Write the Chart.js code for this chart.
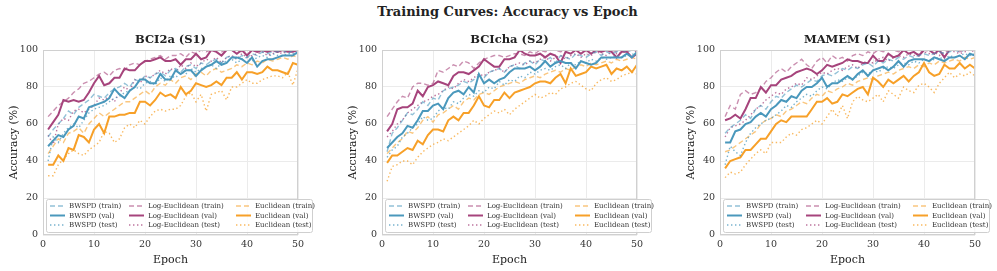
<!DOCTYPE html>
<html>
<head>
<meta charset="utf-8">
<script src="https://cdn.jsdelivr.net/npm/chart.js@4.4.1/dist/chart.umd.min.js"></script>
<style>
  body { margin: 0; background: #fff; width: 997px; height: 271px; position: relative; overflow: hidden; }
  #mainTitle { position: absolute; left: 0; top: 4px; width: 1015px; text-align: center;
    font: bold 13px "DejaVu Serif", serif; color: #222; }
  canvas { position: absolute; top: 28px; }
</style>
</head>
<body>
<div id="mainTitle">Training Curves: Accuracy vs Epoch</div>
<canvas id="c1" width="320" height="243" style="left:0px"></canvas>
<canvas id="c2" width="320" height="243" style="left:339px"></canvas>
<canvas id="c3" width="320" height="243" style="left:677px"></canvas>
<script>
// エポック
const epochs = [1,2,3,4,5,6,7,8,9,10,11,12,13,14,15,16,17,18,19,20,21,22,23,24,25,
  26,27,28,29,30,31,32,33,34,35,36,37,38,39,40,41,42,43,44,45,46,47,48,49,50];
const xTicks = [0, 10, 20, 30, 40, 50];
const yTicks = [0, 20, 40, 60, 80, 100];
const panelTitles = ['BCI2a (S1)', 'BCIcha (S2)', 'MAMEM (S1)'];
const methods = ['BWSPD', 'Log-Euclidean', 'Euclidean'];
const splits = ['train', 'val', 'test'];

// BCI2a (S1)
const bci2aBwspdTrain = [53,57,60,63,67,65,69,71,73,76,75,74,77,79,80,82,80,84,83,86,85,87,88,86,89,90,88,91,92,90,93,92,94,95,93,96,97,95,97,96,98,97,99,98,99,99,100,98,100,100];
const bci2aBwspdVal   = [48,51,54,53,57,59,64,63,69,70,71,72,74,79,76,74,78,80,84,84,82,82,87,84,84,89,87,89,89,86,89,91,92,94,92,93,96,96,95,93,96,91,94,95,95,96,97,97,97,99];
const bci2aBwspdTest  = [40,53,50,55,58,60,58,62,66,68,69,70,72,74,75,77,78,80,79,82,83,81,85,83,86,85,88,87,90,88,90,91,92,90,93,94,95,93,95,96,94,96,97,96,98,97,97,98,98,98];
const bci2aLogTrain   = [64,67,70,72,74,77,79,82,83,85,87,88,86,89,90,89,92,93,92,94,95,96,97,95,97,97,98,96,99,98,100,99,100,100,99,100,100,100,99,100,100,100,100,99,100,100,100,100,100,100];
const bci2aLogVal     = [57,61,65,73,72,73,72,73,77,82,86,81,82,85,85,90,89,89,92,94,94,95,96,94,94,95,92,95,95,98,95,96,100,99,97,100,100,98,100,97,100,99,100,99,100,99,100,99,99,100];
const bci2aLogTest    = [54,49,60,63,62,67,68,66,68,70,74,73,75,72,77,80,78,84,82,86,85,87,89,87,90,88,92,90,93,91,93,95,94,96,93,96,97,95,98,96,97,98,99,97,98,99,98,100,99,100];
const bci2aEucTrain   = [44,48,52,50,55,56,58,55,60,63,66,64,66,68,70,72,72,74,76,78,76,80,82,81,84,82,85,86,84,87,88,86,89,90,88,89,90,92,91,93,92,94,93,95,94,95,96,95,97,96];
const bci2aEucVal     = [38,38,43,40,47,46,54,53,50,57,60,55,64,64,65,65,66,66,72,72,70,73,77,75,76,74,80,76,78,82,81,80,81,83,81,85,85,88,84,88,88,87,88,91,89,89,88,87,93,92];
const bci2aEucTest    = [32,32,38,41,44,46,44,43,46,48,50,56,55,50,52,58,60,58,62,60,64,67,68,67,68,68,70,75,77,72,76,67,76,77,78,73,80,80,82,84,82,82,84,85,86,86,85,88,81,90];

// BCIcha (S2)
const bcichaBwspdTrain = [45,55,58,62,66,65,68,72,70,74,73,78,79,80,81,83,82,84,86,85,88,89,90,88,91,92,90,93,94,92,95,94,96,93,97,96,95,98,97,96,98,99,97,99,98,99,100,99,100,100];
const bcichaBwspdVal   = [47,50,53,55,59,58,62,67,67,70,71,68,74,77,78,76,80,77,87,82,84,82,84,85,88,90,90,90,91,89,91,94,91,93,94,93,93,90,94,93,92,93,96,96,96,96,96,98,96,99];
const bcichaBwspdTest  = [42,46,48,53,55,58,60,64,62,63,67,69,68,72,71,74,76,75,78,77,80,79,83,81,84,83,86,85,88,87,89,90,89,91,92,90,93,92,94,93,95,94,96,95,96,97,96,97,98,97];
const bcichaLogTrain   = [64,68,72,75,74,80,82,82,81,82,89,88,90,92,91,94,93,90,93,95,96,97,97,96,97,98,98,97,99,98,100,99,100,100,99,100,100,100,100,99,100,100,100,100,100,99,100,100,100,100];
const bcichaLogVal     = [56,60,68,69,69,71,78,75,80,81,83,82,81,86,88,88,87,89,91,95,93,91,91,95,95,96,100,98,97,97,98,96,98,97,93,99,98,100,98,100,98,100,99,100,99,96,99,99,96,98];
const bcichaLogTest    = [53,56,60,62,66,68,70,72,73,75,76,78,80,79,82,84,83,85,87,86,88,89,90,88,91,92,93,92,94,93,95,96,94,96,97,95,97,98,96,98,97,99,98,97,99,98,99,99,100,99];
const bcichaEucTrain   = [44,47,50,52,56,55,58,62,64,61,65,66,68,70,68,72,74,73,76,77,76,78,80,81,82,83,82,84,85,86,85,87,88,89,88,90,89,91,92,91,93,92,93,94,93,95,94,95,96,95];
const bcichaEucVal     = [39,43,43,45,47,46,51,49,54,57,57,56,62,64,62,66,66,70,75,70,69,73,73,77,74,77,78,79,80,82,83,83,82,85,87,82,90,86,87,88,91,90,91,92,87,90,89,91,88,92];
const bcichaEucTest    = [29,37,38,40,40,38,42,45,47,49,50,52,51,53,55,57,59,62,60,63,65,67,66,68,65,68,70,72,74,76,74,75,77,76,79,80,82,83,81,79,78,82,84,85,83,84,86,87,88,87];

// MAMEM (S1)
const mamemBwspdTrain = [55,58,60,62,65,63,68,70,68,72,75,74,77,79,81,80,82,84,83,86,87,86,88,90,89,91,90,92,93,91,94,93,95,94,96,95,97,96,97,98,97,98,99,98,99,100,99,100,100,100];
const mamemBwspdVal   = [50,50,56,57,60,61,64,66,64,68,70,73,72,75,74,78,80,80,82,85,80,82,82,84,86,84,87,89,86,89,90,91,89,91,94,91,94,95,95,95,94,96,95,94,96,96,97,95,98,97];
const mamemBwspdTest  = [38,48,45,43,50,55,58,60,62,63,65,67,70,69,72,74,76,75,78,80,79,82,84,83,85,84,86,88,87,89,88,90,91,90,92,93,92,94,93,95,94,95,96,95,97,96,97,98,97,98];
const mamemLogTrain   = [64,70,68,76,78,76,77,79,83,85,88,90,88,91,93,95,92,90,94,96,93,97,95,96,94,97,98,97,99,98,100,99,100,100,99,100,100,100,100,99,100,100,100,100,100,100,99,100,100,100];
const mamemLogVal     = [62,63,65,63,68,74,74,80,77,81,81,84,85,86,88,89,90,89,87,89,92,91,92,93,95,94,94,93,93,97,94,94,98,96,97,100,98,99,97,100,100,98,100,96,100,100,100,100,100,100];
const mamemLogTest    = [53,58,59,60,62,65,68,70,73,75,77,76,79,80,82,81,85,84,86,88,87,89,90,89,91,92,90,93,94,93,95,96,94,96,97,96,98,97,98,99,98,99,97,99,100,99,98,99,100,99];
const mamemEucTrain   = [45,46,48,50,52,54,56,60,62,63,65,64,67,68,70,72,71,74,76,75,78,77,79,80,82,81,83,84,85,84,86,87,88,87,89,90,91,90,92,91,93,92,94,93,94,95,94,96,95,96];
const mamemEucVal     = [36,40,41,42,46,46,49,52,52,56,60,62,61,64,64,64,64,68,72,72,74,71,72,76,75,77,79,80,76,85,83,80,84,82,84,86,83,86,88,93,88,86,87,92,90,90,93,90,92,90];
const mamemEucTest    = [31,34,33,34,38,41,44,46,44,50,50,50,53,55,54,57,58,60,62,60,64,68,64,70,63,72,75,73,72,74,76,72,78,76,74,80,78,77,81,82,80,77,82,85,88,85,87,86,88,86];

const panelData = [
  [[bci2aBwspdTrain, bci2aBwspdVal, bci2aBwspdTest], [bci2aLogTrain, bci2aLogVal, bci2aLogTest], [bci2aEucTrain, bci2aEucVal, bci2aEucTest]],
  [[bcichaBwspdTrain, bcichaBwspdVal, bcichaBwspdTest], [bcichaLogTrain, bcichaLogVal, bcichaLogTest], [bcichaEucTrain, bcichaEucVal, bcichaEucTest]],
  [[mamemBwspdTrain, mamemBwspdVal, mamemBwspdTest], [mamemLogTrain, mamemLogVal, mamemLogTest], [mamemEucTrain, mamemEucVal, mamemEucTest]]
];

// 色と線種
const colors = [[74, 152, 188], [166, 68, 124], [247, 160, 40]];
const splitStyle = {
  train: { alpha: 0.6, width: 1.4, dash: [5, 3] },
  val:   { alpha: 1.0, width: 2.0, dash: [] },
  test:  { alpha: 0.75, width: 1.4, dash: [1.4, 2.6] }
};
const serif = '"DejaVu Serif", serif';
const textColor = '#333';

function rgba(c, a) { return 'rgba(' + c[0] + ',' + c[1] + ',' + c[2] + ',' + a + ')'; }

// 枠線とサブタイトル
const framePlugin = {
  id: 'frame',
  afterDatasetsDraw(chart) {
    const a = chart.chartArea, ctx = chart.ctx;
    ctx.save();
    ctx.strokeStyle = '#d0d0d0';
    ctx.lineWidth = 1;
    ctx.strokeRect(a.left + 0.5, a.top + 0.5, a.right - a.left - 1, a.bottom - a.top - 1);
    ctx.fillStyle = '#222';
    ctx.font = 'bold 11.5px ' + serif;
    ctx.textAlign = 'center';
    ctx.textBaseline = 'middle';
    ctx.fillText(chart.options.subTitle, (a.left + a.right) / 2, a.top - 9.5);
    ctx.restore();
  }
};

// 凡例（プロット内の下部）
const legendPlugin = {
  id: 'innerLegend',
  afterDraw(chart) {
    const a = chart.chartArea, ctx = chart.ctx;
    const boxL = a.left + 3, boxR = a.left + 269, boxT = a.bottom - 36, boxB = a.bottom - 3;
    ctx.save();
    ctx.fillStyle = 'rgba(255,255,255,0.85)';
    ctx.strokeStyle = '#cfcfcf';
    ctx.lineWidth = 1;
    ctx.beginPath();
    ctx.roundRect(boxL + 0.5, boxT + 0.5, boxR - boxL, boxB - boxT, 2);
    ctx.fill();
    ctx.stroke();
    const colX = [a.left + 7, a.left + 86, a.left + 193];
    const rowY = [a.bottom - 29, a.bottom - 19.5, a.bottom - 10];
    ctx.font = '7px ' + serif;
    ctx.textBaseline = 'middle';
    chart.data.datasets.forEach(function(ds, i) {
      const m = Math.floor(i / 3), s = i % 3;
      const x = colX[m], y = rowY[s];
      ctx.strokeStyle = ds.borderColor;
      ctx.lineWidth = ds.borderWidth;
      ctx.setLineDash(ds.borderDash);
      ctx.beginPath();
      ctx.moveTo(x, y);
      ctx.lineTo(x + 15, y);
      ctx.stroke();
      ctx.setLineDash([]);
      ctx.fillStyle = textColor;
      ctx.fillText(ds.label, x + 19, y + 0.5);
    });
    ctx.restore();
  }
};

function makeChart(id, p) {
  const datasets = [];
  methods.forEach(function(name, m) {
    splits.forEach(function(sp, s) {
      const st = splitStyle[sp];
      datasets.push({
        label: name + ' (' + sp + ')',
        data: panelData[p][m][s].map(function(v, i) { return { x: epochs[i], y: v }; }),
        borderColor: rgba(colors[m], st.alpha),
        borderWidth: st.width,
        borderDash: st.dash,
        pointRadius: 0,
        fill: false,
        tension: 0
      });
    });
  });
  return new Chart(document.getElementById(id).getContext('2d'), {
    type: 'line',
    data: { datasets: datasets },
    options: {
      responsive: false,
      animation: false,
      subTitle: panelTitles[p],
      layout: { padding: { left: 0, right: 22, top: 22, bottom: 0 } },
      plugins: {
        legend: { display: false },
        tooltip: { enabled: false },
        title: { display: false }
      },
      scales: {
        x: {
          type: 'linear', min: 0, max: 50,
          afterBuildTicks: function(s) { s.ticks = xTicks.map(function(v) { return { value: v }; }); },
          afterFit: function(s) { s.height = 36; },
          ticks: { color: textColor, font: { family: serif, size: 9.5 }, padding: 4, maxRotation: 0 },
          grid: { color: '#ebebeb', drawTicks: false },
          border: { display: false },
          title: { display: true, text: 'Epoch', color: '#222', font: { family: serif, size: 11 }, padding: { top: 2, bottom: 4 } }
        },
        y: {
          min: 0, max: 100,
          afterBuildTicks: function(s) { s.ticks = yTicks.map(function(v) { return { value: v }; }); },
          afterFit: function(s) { s.width = 43; },
          ticks: { color: textColor, font: { family: serif, size: 9.5 }, padding: 5 },
          grid: { color: '#ebebeb', drawTicks: false },
          border: { display: false },
          title: { display: true, text: 'Accuracy (%)', color: '#222', font: { family: serif, size: 11 }, padding: { top: 8, bottom: 2 } }
        }
      }
    },
    plugins: [framePlugin, legendPlugin]
  });
}

makeChart('c1', 0);
makeChart('c2', 1);
makeChart('c3', 2);
</script>
</body>
</html>
